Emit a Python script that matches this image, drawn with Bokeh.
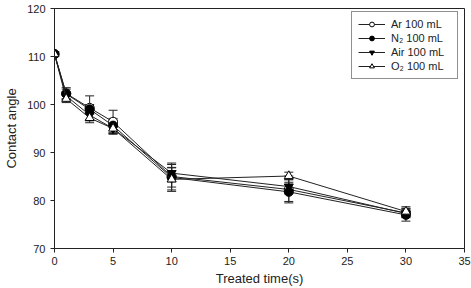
from bokeh.plotting import figure
from bokeh.models import Range1d, FixedTicker, ColumnDataSource, Whisker, TeeHead, Legend, LegendItem
from bokeh.embed import file_html
from bokeh.resources import INLINE

# Treatment time (s) and contact angle (deg) for each plasma gas
time_s = [0, 1, 3, 5, 10, 20, 30]
ar_angle = [110.5, 102.3, 99.3, 96.4, 85.0, 82.3, 77.4]
ar_err = [0.3, 1.2, 2.5, 2.4, 2.8, 2.8, 1.0]
n2_angle = [110.5, 102.2, 99.0, 95.6, 84.8, 81.8, 77.0]
n2_err = [0.3, 1.0, 1.0, 1.5, 2.0, 2.0, 1.3]
air_angle = [110.5, 101.8, 97.8, 95.0, 85.7, 82.9, 77.3]
air_err = [0.3, 0.8, 1.2, 1.2, 1.8, 1.5, 0.8]
o2_angle = [110.5, 101.2, 97.2, 95.0, 84.4, 85.1, 77.7]
o2_err = [0.3, 0.8, 1.0, 1.0, 2.5, 0.8, 1.0]

labels = ["Ar 100 mL", "N\u2082 100 mL", "Air 100 mL", "O\u2082 100 mL"]
x_ticks = [0, 5, 10, 15, 20, 25, 30, 35]
y_ticks = [70, 80, 90, 100, 110, 120]

FONT = "Liberation Sans"
INK = "#222222"

p = figure(width=471, height=288, output_backend="svg", toolbar_location=None,
           x_range=Range1d(0, 35), y_range=Range1d(70, 120),
           min_border_left=54, min_border_right=7, min_border_top=8, min_border_bottom=39)
p.grid.visible = False
p.outline_line_color = INK
p.outline_line_width = 1
p.background_fill_color = "white"
p.border_fill_color = "white"

for ax, ticks in ((p.xaxis, x_ticks), (p.yaxis, y_ticks)):
    ax.ticker = FixedTicker(ticks=ticks)
    ax.major_tick_out = 4
    ax.major_tick_in = 0
    ax.minor_tick_line_color = None
    ax.axis_line_color = INK
    ax.major_tick_line_color = INK
    ax.major_label_text_font = FONT
    ax.major_label_text_font_size = "11px"
    ax.major_label_text_color = INK
    ax.axis_label_text_font = FONT
    ax.axis_label_text_font_style = "normal"
    ax.axis_label_text_color = INK

p.xaxis.axis_label = "Treated time(s)"
p.yaxis.axis_label = "Contact angle"
p.xaxis.axis_label_text_font_size = "13px"
p.yaxis.axis_label_text_font_size = "13px"
p.xaxis.major_label_standoff = 4
p.yaxis.major_label_standoff = 5
p.xaxis.axis_label_standoff = 3
p.yaxis.axis_label_standoff = 5

series = [
    (ar_angle, ar_err, "circle", "white"),
    (n2_angle, n2_err, "circle", "black"),
    (air_angle, air_err, "inverted_triangle", "black"),
    (o2_angle, o2_err, "triangle", "white"),
]

items = []
for (vals, errs, marker, fill), lab in zip(series, labels):
    src = ColumnDataSource(dict(
        x=time_s, y=vals,
        upper=[v + e for v, e in zip(vals, errs)],
        lower=[v - e for v, e in zip(vals, errs)],
    ))
    w = Whisker(source=src, base="x", upper="upper", lower="lower",
                line_color=INK, line_width=1,
                upper_head=TeeHead(size=9, line_color=INK, line_width=1),
                lower_head=TeeHead(size=9, line_color=INK, line_width=1))
    p.add_layout(w)
    ln = p.line("x", "y", source=src, line_color=INK, line_width=1)
    sc = p.scatter("x", "y", source=src, marker=marker, size=9,
                   fill_color=fill, line_color="black", line_width=1)
    items.append(LegendItem(label=lab, renderers=[ln, sc]))

legend = Legend(items=items, location=(297, 169),
                label_text_font=FONT, label_text_font_size="11px",
                label_text_color=INK,
                glyph_width=27, glyph_height=12, label_height=12, label_width=60,
                label_standoff=6, spacing=2, padding=6, margin=0,
                border_line_color=INK, border_line_width=1,
                background_fill_color="white", background_fill_alpha=1)
p.add_layout(legend, "center")

open("out.html", "w").write(file_html(p, INLINE))
